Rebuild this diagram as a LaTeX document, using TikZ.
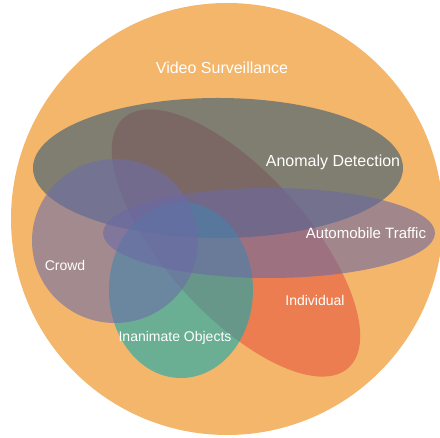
\documentclass[tikz,border=0pt]{standalone}
\usepackage{fontspec}
\setmainfont{Liberation Sans}
\definecolor{surveillanceColor}{RGB}{244,182,106}
\definecolor{anomalyColor}{RGB}{49,90,116}
\definecolor{individualColor}{RGB}{232,87,63}
\definecolor{objectsColor}{RGB}{14,169,176}
\definecolor{crowdColor}{RGB}{109,109,169}
\definecolor{trafficColor}{RGB}{107,105,163}
\begin{document}
\begin{tikzpicture}[x=1pt, y=1pt, venn set/.style={fill opacity=0.6}, venn text/.style={text=white, font=\fontsize{14}{16}\selectfont}]
            \useasboundingbox (0,0) rectangle (440,438);

            % sets, drawn back to front
            \fill[surveillanceColor] (227,219) circle (216);
            \fill[individualColor, venn set, rotate around={-48:(236,195)}] (236,195) ellipse [x radius=168, y radius=71];
            \fill[anomalyColor, venn set] (218,270) ellipse [x radius=185, y radius=70];
            \fill[objectsColor, venn set] (181,148) ellipse [x radius=72, y radius=88];
            \fill[crowdColor, venn set] (115,197) ellipse [x radius=83, y radius=82];
            \fill[trafficColor, venn set] (269,205) ellipse [x radius=166, y radius=45];

            % labels
            \node[venn text, font=\fontsize{16}{19}\selectfont] (surveillance) at (222,370) {Video Surveillance};
            \node[venn text, font=\fontsize{16}{19}\selectfont] (anomaly) at (333,276) {Anomaly Detection};
            \node[venn text, font=\fontsize{15}{18}\selectfont] (traffic) at (366,205) {Automobile Traffic};
            \node[venn text] (crowd) at (65,172) {Crowd};
            \node[venn text] (individual) at (315,137) {Individual};
            \node[venn text] (objects) at (175,100) {Inanimate Objects};
\end{tikzpicture}
\end{document}
